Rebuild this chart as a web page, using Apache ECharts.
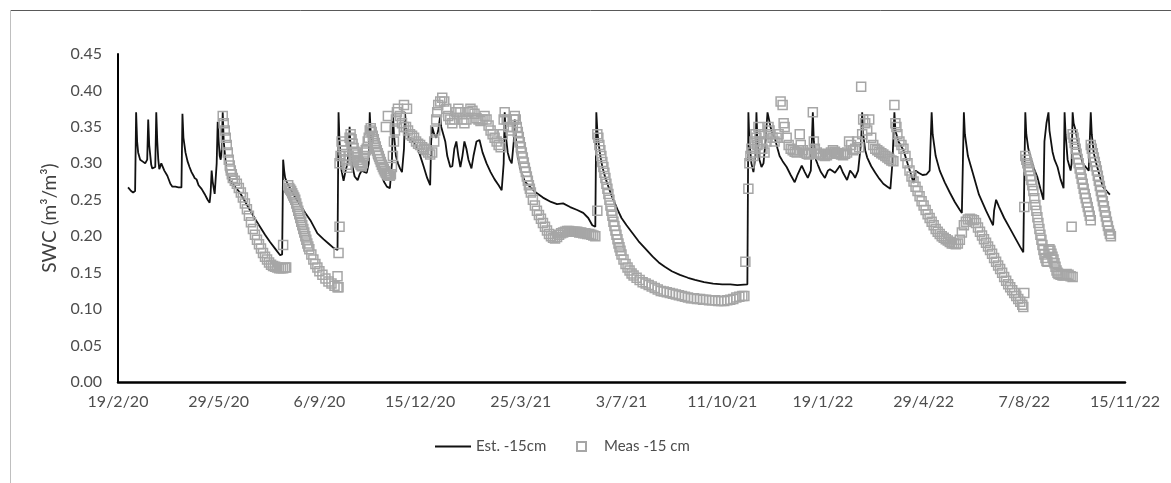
<!DOCTYPE html>
<html><head><meta charset="utf-8">
<script src="https://cdn.jsdelivr.net/npm/echarts@6/dist/echarts.min.js"></script>
<style>html,body{margin:0;padding:0;background:#fff}#c{width:1171px;height:483px}</style>
</head><body><div id="c"></div>
<script>
// x values are days since 19/2/20
const xTickLabels = ['19/2/20','29/5/20','6/9/20','15/12/20','25/3/21','3/7/21','11/10/21','19/1/22','29/4/22','7/8/22','15/11/22'];

const estSeg1 = [[10,0.267],[13,0.262],[15,0.26],[17,0.262],[18,0.37],[19,0.33],[20,0.315],[22,0.305],[25,0.302],[27,0.30],[29,0.305],[30,0.36],[31,0.325],[33,0.298],[34,0.293],[37,0.295],[38,0.37],[39,0.33],[40,0.305],[41,0.292],[42,0.29],[43,0.30],[44,0.302],[46,0.29],[49,0.283],[52,0.272],[54,0.268],[57,0.268],[60,0.267],[63,0.267],[64,0.368],[65,0.335],[67,0.315],[69,0.303],[71,0.295],[73,0.288],[75,0.283],[76,0.28],[78,0.278],[80,0.27],[83,0.265],[86,0.258],[89,0.25],[91,0.246],[92,0.26],[93,0.29],[94,0.275],[96,0.258],[97,0.256],[98,0.3],[99,0.357],[100,0.33],[101,0.31],[102,0.305],[103,0.32],[104,0.37],[105,0.33],[107,0.3],[108,0.287],[112,0.275],[116,0.268],[121,0.26],[126,0.248],[131,0.236],[136,0.224],[141,0.213],[146,0.202],[151,0.192],[156,0.183],[161,0.174],[163,0.175],[164,0.305],[165,0.29],[166,0.28],[168,0.273],[172,0.263],[176,0.253],[181,0.243],[186,0.232],[191,0.222],[198,0.204],[204,0.196],[209,0.19],[214,0.184],[218,0.181]];

const estSeg2 = [[219,0.37],[220,0.33],[222,0.29],[224,0.276],[226,0.29],[228,0.30],[229,0.32],[230,0.35],[231,0.32],[233,0.295],[235,0.282],[238,0.277],[240,0.285],[242,0.29],[245,0.288],[247,0.287],[249,0.3],[250,0.37],[251,0.34],[253,0.315],[255,0.305],[258,0.295],[261,0.287],[264,0.275],[267,0.268],[270,0.266],[272,0.3],[273,0.37],[274,0.34],[276,0.31],[278,0.3],[280,0.293],[282,0.288],[284,0.32],[285,0.37],[286,0.35],[288,0.338],[291,0.332],[295,0.327],[299,0.315],[303,0.298],[307,0.28],[310,0.27],[311,0.33],[312,0.35],[314,0.34],[316,0.335],[318,0.345],[320,0.365],[321,0.35],[323,0.34],[325,0.33],[327,0.31],[330,0.295],[332,0.296],[334,0.32],[336,0.33],[338,0.31],[340,0.295],[342,0.31],[344,0.33],[346,0.32],[348,0.305],[351,0.293],[353,0.31],[356,0.33],[359,0.332],[362,0.315],[366,0.3],[370,0.288],[374,0.278],[378,0.27],[381,0.263],[383,0.3],[384,0.37],[385,0.34],[387,0.315],[389,0.305],[391,0.3],[393,0.33],[394,0.36],[395,0.335],[397,0.31],[400,0.29],[404,0.275],[409,0.268],[415,0.26],[422,0.253],[430,0.247],[436,0.244],[442,0.245],[449,0.24],[456,0.236],[462,0.232],[467,0.225],[471,0.215],[474,0.213]];

const estSeg3 = [[475,0.37],[476,0.345],[477,0.33],[479,0.31],[481,0.295],[484,0.28],[487,0.268],[490,0.256],[492,0.25],[496,0.237],[500,0.225],[505,0.215],[511,0.204],[517,0.193],[523,0.184],[531,0.172],[537,0.164],[543,0.158],[550,0.152],[558,0.147],[566,0.143],[573,0.14],[582,0.137],[591,0.135],[600,0.134],[608,0.134],[615,0.133],[625,0.134]];

const estSeg4 = [[626,0.37],[627,0.33],[629,0.3],[631,0.288],[633,0.31],[634,0.37],[635,0.33],[637,0.305],[639,0.295],[641,0.3],[643,0.33],[645,0.37],[646,0.37],[648,0.35],[650,0.34],[652,0.336],[655,0.32],[657,0.31],[660,0.303],[664,0.295],[668,0.284],[672,0.274],[675,0.285],[679,0.297],[682,0.288],[685,0.28],[688,0.29],[689,0.33],[690,0.37],[691,0.33],[693,0.305],[695,0.298],[698,0.288],[702,0.28],[705,0.29],[707,0.292],[710,0.289],[712,0.287],[715,0.293],[717,0.297],[720,0.287],[724,0.277],[727,0.29],[730,0.285],[732,0.28],[735,0.29],[738,0.33],[739,0.37],[740,0.34],[742,0.318],[744,0.308],[748,0.296],[752,0.287],[756,0.279],[760,0.272],[764,0.268],[767,0.265],[769,0.3],[771,0.37],[772,0.345],[775,0.33],[780,0.318],[784,0.3],[787,0.287],[790,0.273],[792,0.29],[795,0.287],[799,0.284],[803,0.285],[806,0.29],[807,0.33],[808,0.37],[809,0.34],[812,0.31],[816,0.29],[821,0.274],[826,0.26],[831,0.247],[836,0.236],[838,0.232],[839,0.3],[840,0.37],[841,0.34],[844,0.31],[849,0.286],[855,0.257],[862,0.235],[869,0.215],[870,0.235],[872,0.25],[875,0.24],[880,0.225],[886,0.21],[892,0.195],[896,0.185],[899,0.178],[900,0.28],[901,0.37],[902,0.34],[904,0.32],[906,0.309],[909,0.295],[913,0.281],[916,0.265],[919,0.25],[920,0.33],[922,0.355],[924,0.37],[925,0.345],[928,0.316],[930,0.305],[933,0.295],[936,0.278],[939,0.266],[940,0.37],[941,0.34],[943,0.305],[946,0.29],[947,0.3],[948,0.37],[949,0.355],[951,0.345],[953,0.33],[955,0.315],[958,0.3],[961,0.295],[964,0.29],[965,0.33],[966,0.37],[967,0.34],[969,0.314],[972,0.297],[975,0.282],[978,0.268],[981,0.263],[985,0.257]];

const measSeg1 = [[104,0.365],[105,0.355],[106,0.345],[107,0.335],[108,0.325],[109,0.315],[110,0.305],[111,0.297],[112,0.29],[113,0.285],[114,0.28],[116,0.276],[118,0.272],[120,0.266],[122,0.26],[124,0.253],[126,0.245],[128,0.237],[130,0.228],[132,0.219],[134,0.21],[136,0.202],[138,0.195],[140,0.189],[142,0.183],[144,0.177],[146,0.172],[148,0.168],[150,0.164],[152,0.161],[154,0.159],[156,0.158],[158,0.157],[160,0.156],[162,0.156],[164,0.156],[166,0.157],[167,0.157],[164,0.188]];

const measSeg2 = [[169,0.27],[170,0.266],[171,0.264],[172,0.262],[173,0.259],[174,0.256],[175,0.253],[176,0.25],[177,0.245],[178,0.24],[179,0.235],[180,0.23],[181,0.225],[182,0.22],[183,0.215],[184,0.21],[185,0.205],[186,0.2],[187,0.195],[188,0.19],[189,0.186],[190,0.182],[192,0.175],[194,0.168],[196,0.162],[198,0.157],[200,0.152],[203,0.147],[206,0.142],[209,0.138],[212,0.135],[215,0.132],[218,0.13],[219,0.13],[220,0.213],[219,0.177],[218,0.145]];

const measSeg3 = [[220,0.30],[221,0.31],[222,0.33],[223,0.325],[224,0.318],[225,0.31],[226,0.304],[227,0.298],[228,0.294],[229,0.31],[230,0.335],[231,0.34],[232,0.333],[233,0.327],[234,0.321],[235,0.316],[236,0.312],[237,0.308],[238,0.305],[239,0.302],[240,0.3],[241,0.298],[242,0.296],[243,0.3],[244,0.31],[245,0.315],[246,0.318],[247,0.32],[248,0.33],[249,0.335],[250,0.345],[251,0.348],[252,0.343],[253,0.338],[254,0.333],[255,0.328],[256,0.323],[257,0.318],[258,0.314],[259,0.31],[260,0.306],[261,0.302],[262,0.298],[263,0.295],[264,0.292],[265,0.289],[266,0.287],[267,0.285],[268,0.284],[269,0.283],[270,0.283],[271,0.285],[272,0.295],[273,0.31],[274,0.33],[275,0.345],[276,0.36],[277,0.37],[278,0.375],[280,0.365],[282,0.355],[284,0.35],[286,0.35],[288,0.345],[290,0.34],[292,0.338],[294,0.335],[296,0.33],[298,0.327],[300,0.325],[302,0.322],[304,0.32],[306,0.318],[308,0.315],[310,0.312],[312,0.315],[314,0.33],[315,0.345],[316,0.36],[317,0.37],[318,0.38],[320,0.385],[322,0.39],[324,0.385],[326,0.375],[328,0.365],[330,0.36],[332,0.355],[334,0.36],[336,0.37],[338,0.375],[340,0.37],[342,0.36],[344,0.355],[346,0.36],[348,0.37],[350,0.375],[352,0.372],[354,0.368],[356,0.362],[358,0.36],[360,0.358],[362,0.36],[364,0.365],[366,0.36],[368,0.352],[370,0.345],[372,0.34],[374,0.335],[376,0.33],[378,0.325],[380,0.322],[382,0.34],[383,0.36],[384,0.37],[386,0.36],[388,0.35],[390,0.345],[392,0.35],[393,0.36],[394,0.365],[395,0.36],[396,0.35],[397,0.343],[398,0.336],[399,0.329],[400,0.322],[401,0.315],[402,0.308],[403,0.301],[404,0.294],[405,0.288],[406,0.282],[407,0.276],[408,0.27],[409,0.265],[410,0.26],[412,0.25],[414,0.242],[416,0.235],[418,0.229],[420,0.224],[422,0.218],[424,0.213],[426,0.208],[428,0.203],[430,0.2],[432,0.198],[434,0.197],[436,0.199],[438,0.202],[440,0.204],[442,0.205],[444,0.206],[446,0.207],[448,0.207],[450,0.206],[452,0.206],[454,0.206],[456,0.206],[458,0.205],[460,0.205],[462,0.204],[464,0.204],[466,0.203],[468,0.203],[470,0.202],[472,0.201],[474,0.2],[266,0.35],[268,0.365],[284,0.38],[287,0.375],[476,0.235]];

const measSeg4 = [[476,0.34],[477,0.335],[478,0.325],[479,0.318],[480,0.31],[481,0.302],[482,0.295],[483,0.287],[484,0.28],[485,0.272],[486,0.265],[487,0.258],[488,0.25],[489,0.242],[490,0.235],[491,0.228],[492,0.22],[493,0.214],[494,0.208],[495,0.202],[496,0.196],[497,0.19],[498,0.185],[499,0.18],[500,0.175],[502,0.168],[504,0.162],[506,0.157],[508,0.153],[510,0.149],[512,0.146],[515,0.143],[518,0.14],[521,0.137],[524,0.135],[527,0.133],[530,0.131],[533,0.129],[536,0.127],[539,0.125],[542,0.124],[545,0.123],[548,0.122],[551,0.121],[554,0.12],[557,0.119],[560,0.118],[563,0.117],[566,0.116],[569,0.115],[572,0.115],[575,0.114],[578,0.114],[581,0.113],[584,0.113],[587,0.112],[590,0.112],[593,0.112],[596,0.111],[599,0.111],[602,0.111],[605,0.112],[608,0.113],[611,0.114],[614,0.116],[617,0.117],[620,0.118],[622,0.118],[623,0.165]];

const measSeg5 = [[626,0.265],[627,0.30],[628,0.31],[629,0.32],[630,0.315],[631,0.31],[632,0.33],[633,0.34],[634,0.335],[635,0.325],[636,0.35],[637,0.34],[638,0.33],[640,0.32],[642,0.315],[644,0.33],[646,0.35],[647,0.345],[648,0.34],[650,0.335],[652,0.33],[654,0.335],[656,0.34],[658,0.385],[660,0.38],[661,0.355],[662,0.35],[664,0.335],[666,0.325],[668,0.32],[670,0.318],[672,0.316],[674,0.315],[676,0.318],[677,0.34],[678,0.325],[680,0.318],[682,0.315],[684,0.313],[686,0.312],[688,0.314],[690,0.37],[691,0.33],[692,0.32],[694,0.315],[696,0.313],[698,0.312],[700,0.311],[702,0.31],[704,0.311],[706,0.313],[708,0.315],[710,0.318],[712,0.316],[714,0.314],[716,0.313],[718,0.312],[720,0.311],[722,0.313],[724,0.315],[726,0.33],[728,0.325],[730,0.318],[732,0.32],[734,0.33],[736,0.322],[738,0.405],[739,0.34],[740,0.36],[742,0.355],[744,0.345],[746,0.36],[748,0.335],[750,0.325],[752,0.32],[754,0.318],[756,0.316],[758,0.314],[760,0.312],[762,0.31],[764,0.308],[766,0.306],[768,0.304],[770,0.303],[771,0.38],[772,0.355],[773,0.35],[774,0.34],[776,0.33],[778,0.325],[780,0.32],[782,0.31],[784,0.3],[786,0.29],[788,0.282],[790,0.275],[792,0.268],[794,0.262],[796,0.255],[798,0.248],[800,0.242],[802,0.236],[804,0.23],[806,0.225],[808,0.22],[810,0.215],[812,0.21],[814,0.206],[816,0.203],[818,0.2],[820,0.198],[822,0.196],[824,0.194],[826,0.192],[828,0.19],[830,0.19],[832,0.189],[834,0.19],[836,0.195],[838,0.205],[840,0.215],[842,0.22],[844,0.223],[846,0.224],[848,0.223],[850,0.222],[852,0.218],[854,0.212],[856,0.206],[858,0.201],[860,0.196],[862,0.191],[864,0.186],[866,0.181],[868,0.176],[870,0.17],[872,0.165],[874,0.16],[876,0.155],[878,0.15],[880,0.144],[882,0.139],[884,0.134],[886,0.13],[888,0.126],[890,0.122],[892,0.118],[894,0.114],[896,0.11],[898,0.106],[899,0.103],[900,0.122],[900,0.24]];

const measSeg6 = [[901,0.31],[902,0.305],[903,0.3],[904,0.295],[905,0.29],[906,0.283],[907,0.277],[908,0.27],[909,0.262],[910,0.252],[911,0.243],[912,0.235],[913,0.226],[914,0.218],[915,0.21],[916,0.202],[917,0.195],[918,0.188],[919,0.181],[920,0.175],[921,0.17],[922,0.166],[923,0.165],[924,0.18],[925,0.182],[926,0.18],[927,0.176],[928,0.172],[929,0.168],[930,0.163],[931,0.158],[932,0.153],[933,0.15],[934,0.148],[936,0.147],[938,0.146],[940,0.146],[942,0.148],[944,0.147],[946,0.145],[948,0.144],[947,0.213]];

const measSeg7 = [[948,0.34],[949,0.335],[950,0.328],[951,0.32],[952,0.313],[953,0.306],[954,0.3],[955,0.293],[956,0.286],[957,0.279],[958,0.272],[959,0.265],[960,0.258],[961,0.252],[962,0.246],[963,0.24],[964,0.234],[965,0.228],[966,0.222],[966,0.325],[967,0.32],[968,0.314],[969,0.308],[970,0.302],[971,0.296],[972,0.29],[973,0.283],[974,0.276],[975,0.269],[976,0.262],[977,0.255],[978,0.248],[979,0.241],[980,0.234],[981,0.227],[982,0.22],[983,0.214],[984,0.208],[985,0.203],[986,0.2]];

const estData = [].concat(estSeg1, estSeg2, estSeg3, estSeg4);
const measData = [].concat(measSeg1, measSeg2, measSeg3, measSeg4, measSeg5, measSeg6, measSeg7);

const FONT = 'Lato';
const LABEL = '#4d4d4d';
const chart = echarts.init(document.getElementById('c'), null, {renderer: 'canvas'});
chart.setOption({
  animation: false,
  backgroundColor: '#ffffff',
  grid: {left: 118, right: 46, top: 54, bottom: 101},
  xAxis: {
    type: 'value', min: 0, max: 1000, interval: 100,
    axisLine: {show: true, lineStyle: {color: '#000', width: 2.5}},
    axisTick: {show: false}, splitLine: {show: false},
    axisLabel: {formatter: v => xTickLabels[Math.round(v / 100)], color: LABEL, fontFamily: FONT, fontSize: 16, margin: 12}
  },
  yAxis: {
    type: 'value', min: 0, max: 0.45, interval: 0.05,
    name: 'SWC (m³/m³)', nameLocation: 'middle', nameGap: 58,
    nameTextStyle: {color: '#404040', fontFamily: FONT, fontSize: 19},
    axisLine: {show: true, lineStyle: {color: '#000', width: 2}},
    axisTick: {show: false}, splitLine: {show: false},
    axisLabel: {formatter: v => v.toFixed(2), color: LABEL, fontFamily: FONT, fontSize: 16, margin: 16}
  },
  legend: [
    {data: [{name: 'Est. -15cm', icon: 'rect'}], left: 435, top: 439, padding: 0, itemWidth: 36, itemHeight: 2,
     textStyle: {color: LABEL, fontFamily: FONT, fontSize: 15}},
    {data: ['Meas -15 cm'], left: 576, top: 439, padding: 0, itemWidth: 9, itemHeight: 9,
     textStyle: {color: LABEL, fontFamily: FONT, fontSize: 15, padding: [0, 0, 0, 13]}}
  ],
  series: [
    {name: 'Est. -15cm', type: 'line', data: estData, symbol: 'none', z: 2,
     lineStyle: {color: '#111', width: 1.8}, itemStyle: {color: '#111'}},
    {name: 'Meas -15 cm', type: 'scatter', data: measData, symbol: 'rect', symbolSize: 9, z: 3,
     itemStyle: {color: 'rgba(255,255,255,0)', borderColor: '#a6a6a6', borderWidth: 1.5, opacity: 1}}
  ],
  graphic: [
    {type: 'line', silent: true, shape: {x1: 10, y1: 10.5, x2: 1171, y2: 10.5}, style: {stroke: '#595959', lineWidth: 1}},
    {type: 'line', silent: true, shape: {x1: 10.5, y1: 10, x2: 10.5, y2: 483}, style: {stroke: '#bfbfbf', lineWidth: 1}}
  ]
});
</script></body></html>
